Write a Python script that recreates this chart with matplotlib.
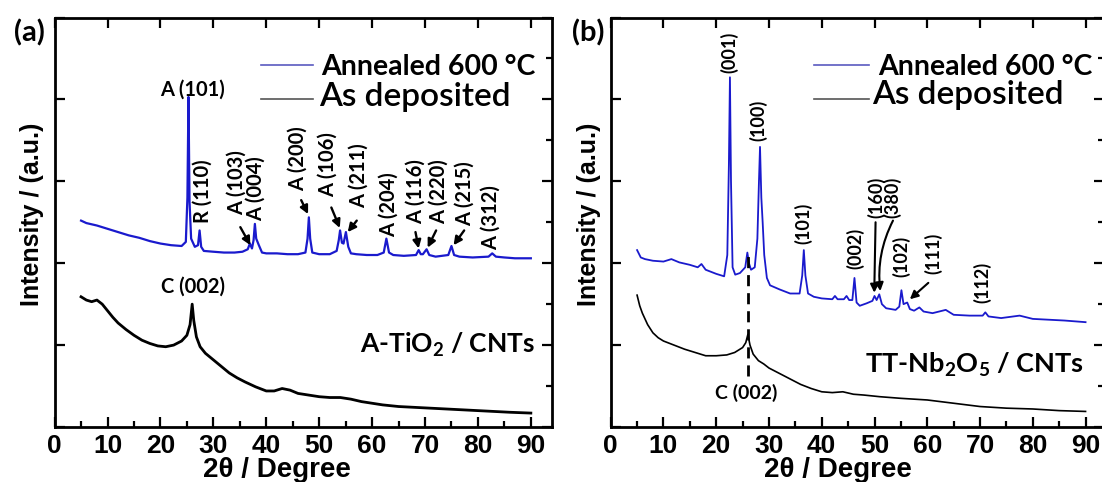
import matplotlib
matplotlib.use("Agg")
import matplotlib.pyplot as plt
from matplotlib.ticker import MultipleLocator

plt.rcParams['mathtext.default'] = 'regular'

# ---------------- data ----------------
# Panel (a): A-TiO2 / CNTs
a_ann_x = [5, 6, 8, 10, 12, 14, 16, 18, 20, 22, 24, 24.8, 25.1, 25.3, 25.5, 25.8, 26.5, 27.1, 27.4, 27.7,
           28.2, 30, 32, 34, 35.5, 36.5, 36.9, 37.3, 37.6, 37.85, 38.1, 38.6, 39.2, 40, 42, 44, 46, 47.4,
           47.8, 48.05, 48.3, 48.7, 50, 52, 53.3, 53.7, 53.95, 54.3, 54.6, 55.05, 55.5, 56, 57, 59, 61,
           62.2, 62.7, 63.2, 64, 66, 68.3, 68.8, 69.2, 69.6, 70.3, 70.8, 72, 74.4, 75.0, 75.5, 76.5, 79,
           82, 82.7, 83.4, 85, 87, 90]
a_ann_y = [2.52, 2.49, 2.46, 2.42, 2.38, 2.34, 2.31, 2.27, 2.24, 2.22, 2.21, 2.26, 2.80, 4.03, 2.75, 2.30,
           2.20, 2.22, 2.40, 2.20, 2.15, 2.14, 2.13, 2.13, 2.14, 2.17, 2.24, 2.18, 2.28, 2.48, 2.30, 2.22,
           2.13, 2.12, 2.12, 2.11, 2.11, 2.13, 2.30, 2.56, 2.30, 2.13, 2.11, 2.11, 2.15, 2.28, 2.40, 2.25,
           2.24, 2.38, 2.20, 2.12, 2.11, 2.10, 2.10, 2.13, 2.30, 2.13, 2.10, 2.09, 2.10, 2.16, 2.11, 2.11,
           2.17, 2.10, 2.08, 2.10, 2.21, 2.10, 2.08, 2.07, 2.08, 2.12, 2.08, 2.07, 2.06, 2.06]
a_dep_x = [5, 6, 7, 8, 9, 10, 11, 12, 13.5, 15, 16.5, 18, 19.5, 21, 22.5, 24, 25, 25.6, 26.0, 26.3, 26.8,
           27.5, 28.5, 30, 31.5, 33, 34.5, 36, 38, 40, 41.5, 43, 44.5, 46, 48, 50, 52, 54, 56, 58, 60,
           62, 65, 68, 71, 74, 77, 80, 83, 86, 90]
a_dep_y = [1.59, 1.55, 1.53, 1.55, 1.50, 1.42, 1.34, 1.27, 1.19, 1.12, 1.06, 1.02, 0.99, 0.98, 1.00, 1.05,
           1.12, 1.25, 1.50, 1.30, 1.10, 0.98, 0.90, 0.82, 0.74, 0.66, 0.60, 0.55, 0.49, 0.44, 0.44, 0.47,
           0.45, 0.41, 0.39, 0.37, 0.36, 0.36, 0.34, 0.31, 0.29, 0.27, 0.25, 0.24, 0.23, 0.22, 0.21, 0.20,
           0.19, 0.18, 0.17]

# Panel (b): TT-Nb2O5 / CNTs
b_ann_x = [5, 5.7, 6.5, 8, 10, 11.5, 13, 15, 16.5, 17.2, 18, 20, 21.5, 22.1, 22.4, 22.6, 22.8, 23.1, 23.6,
           24.5, 25.5, 25.9, 26.2, 26.6, 27.3, 27.8, 28.1, 28.3, 28.55, 28.8, 29.1, 29.6, 30.2, 32, 34,
           35.8, 36.3, 36.6, 36.9, 37.4, 38.5, 40, 42, 42.5, 43, 44.2, 44.7, 45.2, 45.8, 46.2, 46.6, 47.2,
           48.5, 49.6, 50.0, 50.4, 50.9, 51.4, 52.2, 54, 54.7, 55.1, 55.5, 56.2, 56.7, 57.5, 58.5, 59.3,
           61, 63.5, 65, 68, 70.5, 71, 71.6, 74, 77.5, 80, 83, 86, 90]
b_ann_y = [2.16, 2.07, 2.05, 2.03, 2.02, 2.05, 2.01, 1.98, 1.95, 1.99, 1.92, 1.87, 1.84, 2.10, 3.20, 4.27,
           3.00, 1.95, 1.86, 1.88, 1.95, 2.13, 2.00, 1.92, 1.95, 2.30, 3.00, 3.42, 2.80, 2.50, 2.10, 1.82,
           1.73, 1.68, 1.63, 1.63, 1.85, 2.16, 1.85, 1.63, 1.59, 1.57, 1.56, 1.60, 1.56, 1.56, 1.60, 1.55,
           1.55, 1.82, 1.52, 1.48, 1.51, 1.54, 1.60, 1.55, 1.62, 1.50, 1.45, 1.43, 1.47, 1.67, 1.50, 1.52,
           1.44, 1.42, 1.46, 1.41, 1.39, 1.43, 1.37, 1.36, 1.36, 1.40, 1.35, 1.33, 1.36, 1.32, 1.31, 1.30,
           1.28]
b_dep_x = [5, 5.5, 6, 7, 8, 9, 10, 12, 14, 16, 18, 20, 22, 23.5, 25, 25.6, 26.0, 26.4, 27, 28, 29, 30,
           31.5, 33, 34.5, 36, 38, 40, 42, 44, 46, 48, 51, 55, 60, 65, 70, 75, 80, 85, 90]
b_dep_y = [1.61, 1.48, 1.39, 1.25, 1.15, 1.09, 1.05, 1.00, 0.95, 0.91, 0.87, 0.87, 0.88, 0.91, 0.97, 1.03,
           1.13, 1.00, 0.89, 0.81, 0.77, 0.72, 0.67, 0.62, 0.57, 0.52, 0.47, 0.43, 0.42, 0.43, 0.40, 0.39,
           0.37, 0.35, 0.33, 0.29, 0.25, 0.23, 0.22, 0.20, 0.19]

x_ticks = [0, 10, 20, 30, 40, 50, 60, 70, 80, 90]

# peak labels, panel (a): text, x, y, rotation
a_labels = ["A (101)", "R (110)", "A (103)", "A (004)", "A (200)", "A (106)", "A (211)",
            "A (204)", "A (116)", "A (220)", "A (215)", "A (312)"]
a_lab_x = [26.1, 28.0, 34.4, 38.1, 45.9, 51.7, 57.4, 63.1, 68.2, 72.6, 77.6, 82.4]
a_lab_y = [4.12, 2.88, 2.98, 2.91, 3.28, 3.20, 3.07, 2.72, 2.88, 2.88, 2.85, 2.56]
a_lab_rot = [0, 90, 90, 90, 90, 90, 90, 90, 90, 90, 90, 90]
# arrows (a): tail -> head
a_arr_tail = [(35.1, 2.44), (46.6, 2.77), (52.3, 2.68), (57.1, 2.52), (68.2, 2.38), (72.1, 2.40), (77.4, 2.40)]
a_arr_head = [(37.0, 2.22), (47.9, 2.60), (53.9, 2.43), (55.4, 2.38), (68.8, 2.18), (70.5, 2.19), (75.4, 2.22)]

b_labels = ["(001)", "(100)", "(101)", "(002)", "(160)", "(380)", "(102)", "(111)", "(112)"]
b_lab_x = [22.5, 28.0, 36.6, 46.4, 50.3, 53.4, 55.0, 61.2, 70.5]
b_lab_y = [4.57, 3.74, 2.49, 2.18, 2.80, 2.80, 2.08, 2.12, 1.76]
b_arr_tail = [(50.2, 2.50), (53.5, 2.52), (60.2, 1.76)]
b_arr_head = [(49.95, 1.64), (51.1, 1.66), (56.7, 1.56)]
b_arr_rad = [0.0, 0.15, 0.0]

c002_x = 26.0
c002_dash = (0.62, 2.16)

# ---------------- figure ----------------
W, H = 1102, 482
fig = plt.figure(figsize=(W / 100, H / 100), dpi=100)

BLUE = '#1a1acd'
TICKFONT = 'Liberation Sans'
LABFONT = 'Lato'

def px_ax(x0, x1, y0, y1):
    return [x0 / W, 1 - y1 / H, (x1 - x0) / W, (y1 - y0) / H]

axL = fig.add_axes(px_ax(54.6, 552.0, 17.5, 427.0))
axR = fig.add_axes(px_ax(610.7, 1103.5, 17.5, 427.0))

def style(ax, xmax):
    ax.set_xlim(0, xmax)
    ax.set_ylim(0, 5)
    for s in ax.spines.values():
        s.set_linewidth(2.0)
    ax.xaxis.set_major_locator(MultipleLocator(10))
    ax.xaxis.set_minor_locator(MultipleLocator(5))
    ax.yaxis.set_major_locator(MultipleLocator(1))
    ax.yaxis.set_minor_locator(MultipleLocator(0.5))
    ax.tick_params(which='major', direction='in', length=7, width=1.6,
                   top=True, right=True, left=True, bottom=True, labelleft=False, pad=5)
    ax.tick_params(which='minor', direction='in', length=4.5, width=1.6,
                   top=False, right=True, left=False, bottom=True)
    ax.set_xticks(x_ticks)
    ax.set_xticklabels([str(t) for t in x_ticks], fontsize=19, fontweight='bold', family=TICKFONT)

style(axL, 94.0)
style(axR, 93.4)

axL.plot(a_ann_x, a_ann_y, color=BLUE, lw=1.6)
axL.plot(a_dep_x, a_dep_y, color='black', lw=2.0)
axR.plot(b_ann_x, b_ann_y, color=BLUE, lw=1.3)
axR.plot(b_dep_x, b_dep_y, color='black', lw=1.2)

# peak labels (a)
for t, x, y, r in zip(a_labels, a_lab_x, a_lab_y, a_lab_rot):
    axL.text(x, y, t, rotation=r, ha='center', va='center', fontsize=14.5,
             fontweight='bold', family=LABFONT)
for (tx, ty), (hx, hy) in zip(a_arr_tail, a_arr_head):
    axL.annotate('', xy=(hx, hy), xytext=(tx, ty),
                 arrowprops=dict(arrowstyle='-|>', color='black', lw=1.7, mutation_scale=12,
                                 shrinkA=0, shrinkB=0))
axL.text(26.1, 1.71, 'C (002)', ha='center', va='center', fontsize=14.5, fontweight='bold', family=LABFONT)
axL.text(74.2, 1.0, 'A-TiO$_2$ / CNTs', ha='center', va='center', fontsize=19,
         fontweight='bold', family=LABFONT)

# peak labels (b)
for t, x, y in zip(b_labels, b_lab_x, b_lab_y):
    axR.text(x, y, t, rotation=90, ha='center', va='center', fontsize=13,
             fontweight='bold', family=LABFONT)
for (tx, ty), (hx, hy), rad in zip(b_arr_tail, b_arr_head, b_arr_rad):
    axR.annotate('', xy=(hx, hy), xytext=(tx, ty),
                 arrowprops=dict(arrowstyle='-|>', color='black', lw=1.5, mutation_scale=12,
                                 shrinkA=0, shrinkB=0, connectionstyle=f'arc3,rad={rad}'))
axR.plot([c002_x, c002_x], list(c002_dash), color='black', lw=2.0, ls=(0, (4, 2.5)))
axR.text(25.6, 0.41, 'C (002)', ha='center', va='center', fontsize=14, fontweight='bold', family=LABFONT)
axR.text(69.0, 0.76, 'TT-Nb$_2$O$_5$ / CNTs', ha='center', va='center', fontsize=19.5,
         fontweight='bold', family=LABFONT)

# legends
for ax, x0, x1, tx1, tx2, yb2 in [(axL, 0.414, 0.520, 0.536, 0.531, 0.7839),
                                  (axR, 0.413, 0.525, 0.542, 0.531, 0.7888)]:
    ax.plot([x0, x1], [0.884, 0.884], transform=ax.transAxes, color='#5a5ac0', lw=1.2)
    ax.plot([x0, x1], [0.800, 0.800], transform=ax.transAxes, color='#555555', lw=1.2)
    ax.text(tx1, 0.8596, 'Annealed 600 \u00b0C', transform=ax.transAxes, ha='left', va='baseline',
            fontsize=20.5, fontweight='bold', family=LABFONT)
    ax.text(tx2, yb2, 'As deposited', transform=ax.transAxes, ha='left', va='baseline',
            fontsize=24, fontweight='semibold', family=LABFONT)

# axis titles and panel labels
for xc in (32, 589):
    fig.text(xc / W, 1 - 214 / H, 'Intensity / (a.u.)', rotation=90, ha='center', va='center',
             fontsize=18, fontweight='bold', family=TICKFONT)
for xc in (277, 838):
    fig.text(xc / W, 1 - 470 / H, '2\u03b8 / Degree', ha='center', va='center',
             fontsize=20, fontweight='bold', family=TICKFONT)
fig.text(29 / W, 1 - 32.5 / H, '(a)', ha='center', va='center', fontsize=21, fontweight='bold', family=LABFONT)
fig.text(588 / W, 1 - 32.5 / H, '(b)', ha='center', va='center', fontsize=21, fontweight='bold', family=LABFONT)

fig.savefig('out.png', dpi=100)
